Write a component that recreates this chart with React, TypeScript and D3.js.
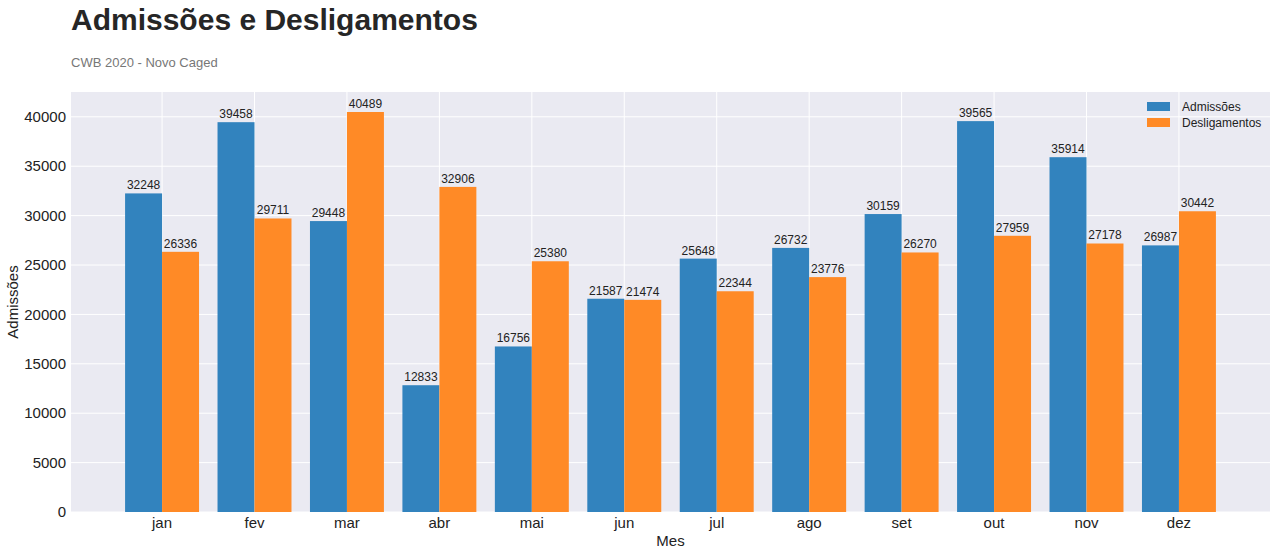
import React from "react";
import * as d3 from "d3";

const months = ["jan","fev","mar","abr","mai","jun","jul","ago","set","out","nov","dez"];
const admissoes = [32248,39458,29448,12833,16756,21587,25648,26732,30159,39565,35914,26987];
const desligamentos = [26336,29711,40489,32906,25380,21474,22344,23776,26270,27959,27178,30442];
const yTicks = [0,5000,10000,15000,20000,25000,30000,35000,40000];

const W = 1278, H = 555;
const L = 71, R = 1270, T = 92, B = 512;
const C1 = "#3283be", C2 = "#ff8a26";
const font = "'Liberation Sans', Arial, sans-serif";

export default function App() {
  const x = d3.scaleLinear().domain([-0.985, 11.985]).range([L, R]);
  const y = d3.scaleLinear().domain([0, 42513]).range([B, T]);
  const bw = x(0.4) - x(0);
  return (
    <svg width={W} height={H} style={{ position: "absolute", left: 0, top: 0, fontFamily: font }}>
      <rect x={L} y={T} width={R - L} height={B - T} fill="#eaeaf2" />
      {yTicks.map(t => (
        <g key={t}>
          <line x1={L} x2={R} y1={y(t)} y2={y(t)} stroke="#fff" strokeWidth={1} />
          <text x={L - 5} y={y(t)} dy="0.35em" textAnchor="end" fontSize={15} fill="#222">{t}</text>
        </g>
      ))}
      {months.map((m, i) => (
        <g key={m}>
          <line x1={x(i)} x2={x(i)} y1={T} y2={B} stroke="#fff" strokeWidth={1} />
          <text x={x(i)} y={B + 16} textAnchor="middle" fontSize={15} fill="#222">{m}</text>
        </g>
      ))}
      {months.map((m, i) => (
        <g key={"b" + m}>
          <rect x={x(i) - bw} y={y(admissoes[i])} width={bw} height={B - y(admissoes[i])} fill={C1} />
          <rect x={x(i)} y={y(desligamentos[i])} width={bw} height={B - y(desligamentos[i])} fill={C2} />
          <text x={x(i) - bw / 2} y={y(admissoes[i]) - 4} textAnchor="middle" fontSize={12} fill="#222">{admissoes[i]}</text>
          <text x={x(i) + bw / 2} y={y(desligamentos[i]) - 4} textAnchor="middle" fontSize={12} fill="#222">{desligamentos[i]}</text>
        </g>
      ))}
      <text x={71} y={30} fontSize={30} fontWeight="bold" fill="#262626">Admissões e Desligamentos</text>
      <text x={71} y={67} fontSize={13} fill="#777">CWB 2020 - Novo Caged</text>
      <text x={18} y={(T + B) / 2} transform={`rotate(-90 18 ${(T + B) / 2})`} textAnchor="middle" fontSize={15} fill="#222">Admissões</text>
      <text x={(L + R) / 2} y={546} textAnchor="middle" fontSize={15} fill="#222">Mes</text>
      <rect x={1147} y={102} width={23} height={9} fill={C1} />
      <text x={1182} y={111} fontSize={12} fill="#222">Admissões</text>
      <rect x={1147} y={118} width={23} height={9} fill={C2} />
      <text x={1182} y={127} fontSize={12} fill="#222">Desligamentos</text>
    </svg>
  );
}
